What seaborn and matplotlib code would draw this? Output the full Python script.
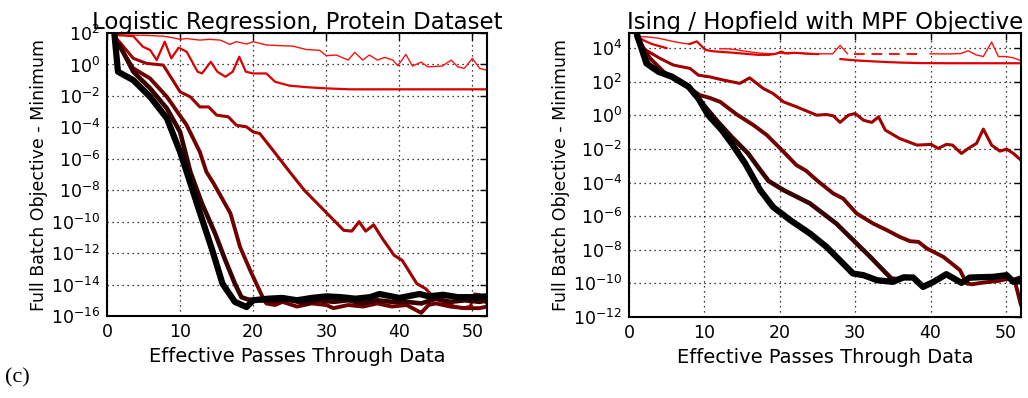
import numpy as np
import pandas as pd
import matplotlib
matplotlib.use("Agg")
import matplotlib.pyplot as plt
import seaborn as sns
from matplotlib.ticker import FixedLocator, NullLocator

# values are log10(full batch objective - minimum)

# Logistic Regression, Protein Dataset
lr_1_x = [1.3, 3.6, 5.5, 7.7, 9, 10, 10.9, 12.7, 14, 15.5, 16.8, 17.7, 19.1, 20, 21.8, 23.5, 25.4, 27.3, 29.1, 30,
          31.4, 33, 33.9, 35, 35.9, 37, 38, 39.1, 39.8, 40.9, 41.8, 43, 43.9, 45.9, 47.1, 48, 48.9, 50, 51, 51.9]
lr_1_y = [1.87, 1.87, 1.85, 1.8, 1.7, 1.6, 1.65, 1.55, 1.6, 1.55, 1.28, 1.45, 1.3, 1.45, 1.24, 1.2, 1.17, 0.95, 0.9, 0.56,
          0.6, 0.28, 0.77, 0.28, 0.6, 0.28, 0.45, 0.28, -0.08, 0.64, -0.1, 0.15, -0.15, -0.1, 0.28, -0.15, -0.25, 0.39, -0.25, -0.36]

lr_2_x = [1.3, 3.6, 4.9, 5.9, 6.8, 7.9, 8.8, 9.8, 10.9, 12.4, 13, 14.2, 15.1, 16.2, 17.2, 18.1, 19, 20, 21.8, 23,
          25, 27.5, 30, 33.2, 40, 52]
lr_2_y = [1.87, 1.8, 1.13, 0.92, 0.28, 1.45, 0.39, 1.07, 0.81, -0.46, -0.57, 0.17, -0.46, -0.78, -0.46, 0.49, -0.46, -0.57, -0.57, -1.1,
          -1.35, -1.45, -1.52, -1.58, -1.58, -1.58]

lr_3_x = [1.3, 3.6, 5.4, 7.7, 10, 11.4, 12.7, 13.9, 15, 16.6, 17.7, 19.1, 20, 20.9, 22.7, 25, 27, 28.8, 30.6, 32.4,
          33.5, 34.5, 35.4, 36.5, 37.7, 39.3, 40.4, 42.4, 43.6, 44.7, 45.5, 47, 48.5, 49.7, 50.3, 51, 51.7, 52]
lr_3_y = [1.66, 0.39, 0.07, -0.04, -1.74, -2.06, -2.7, -2.7, -3.22, -3.33, -3.86, -3.97, -4.29, -4.39, -5.45, -6.83, -8.0, -8.85, -9.7, -10.55,
          -10.6, -10.0, -10.6, -10.2, -11.08, -12.14, -12.46, -13.94, -14.26, -14.8, -15.0, -15.3, -15.5, -15.4, -14.6, -14.65, -15.1, -15.2]

lr_4_x = [1.3, 3.6, 5.9, 8.2, 10.9, 12.7, 13.6, 14.6, 16.9, 18.2, 19.6, 21.3, 21.8, 23, 24, 26, 28, 30, 31, 33,
          35, 37, 39, 41, 43, 44, 45, 47, 49, 51, 52]
lr_4_y = [1.45, -0.25, -0.89, -2.06, -3.86, -5.56, -6.83, -7.57, -9.48, -11.6, -13.1, -14.8, -15.2, -15.3, -15.1, -15.4, -15.2, -15.3, -15.5, -15.3,
          -15.4, -15.2, -15.4, -15.3, -15.8, -15.3, -15.2, -15.4, -15.5, -15.5, -15.4]

lr_5_x = [1.7, 3.6, 5.9, 8.2, 10, 11.4, 13, 14.8, 16.2, 17.5, 18.4, 19.3, 21, 23, 25, 27, 29, 31, 33, 35,
          37, 39, 41, 43, 45, 47, 49, 51, 52]
lr_5_y = [1.24, -0.46, -1.52, -2.8, -4.29, -6.83, -8.85, -10.76, -12.46, -13.94, -14.8, -14.95, -15.0, -15.05, -14.95, -15.2, -15.0, -15.1, -15.0, -15.2,
          -15.0, -15.1, -15.1, -15.2, -14.9, -15.1, -15.0, -15.1, -15.0]

lr_6_x = [1, 1.5, 3.6, 5.9, 8.2, 10, 10.9, 12.6, 14.4, 15.8, 17.5, 19.1, 20, 22, 24, 26, 28, 30, 32, 34,
          36, 37.3, 40, 42.8, 44, 46, 48, 50, 52]
lr_6_y = [2.0, -0.46, -1.0, -2.06, -3.43, -5.56, -6.83, -9.27, -11.8, -13.94, -15.1, -15.43, -15.0, -14.9, -14.85, -15.0, -14.85, -14.75, -14.8, -14.9,
          -14.8, -14.6, -14.85, -14.6, -14.75, -14.65, -14.8, -14.8, -14.75]

# Ising / Hopfield with MPF Objective (gaps in the curves are kept as separate pieces)
mpf_1_pieces = [
    ([1, 2, 3, 4, 5, 6, 7, 8], [4.7, 4.68, 4.64, 4.58, 4.48, 4.38, 4.3, 4.24]),
    ([12, 13, 14, 15, 16, 17, 18, 19, 20, 21, 22, 23, 24, 25, 26, 27, 28, 29],
     [3.96, 3.96, 3.92, 3.84, 3.78, 3.72, 3.68, 3.66, 3.7, 3.66, 3.7, 3.68, 3.64, 3.66, 3.66, 3.66, 4.16, 3.66]),
    ([39.9, 41, 42, 43, 44, 45, 46, 47, 48.1, 49, 50, 51, 51.9],
     [3.66, 3.66, 3.65, 3.66, 3.68, 3.84, 3.6, 3.5, 4.36, 3.5, 3.5, 3.42, 3.27]),
]
mpf_1_dash_x = [29.8, 38.4]
mpf_1_dash_y = [3.66, 3.66]

mpf_2_pieces = [
    ([1, 2, 3, 4, 5], [4.7, 4.45, 4.25, 4.12, 4.0]),
    ([8, 9, 10.1, 11, 12.7, 14, 15.5, 17.1, 18.5, 19.5, 20.2, 20.7, 22, 23.5, 25.1],
     [4.24, 4.4, 3.9, 3.82, 3.76, 3.72, 3.66, 3.6, 3.6, 3.66, 3.8, 3.7, 3.72, 3.68, 3.64]),
    ([28, 30, 32, 34.2, 36, 38.6, 42, 46, 50, 52], [3.35, 3.27, 3.22, 3.17, 3.14, 3.11, 3.1, 3.1, 3.1, 3.1]),
]

mpf_3_x = [1, 1.9, 4.1, 5.9, 8.1, 9.2, 10.7, 12.5, 14.7, 16, 17.8, 19.1, 20.5, 22.2, 24.9, 26.2, 27.1, 28, 29.1, 30,
           31.1, 32.2, 33.1, 34, 35.9, 38.2, 40.1, 41, 42.1, 42.9, 44.1, 45, 46.1, 47, 48.1, 49.2, 50.1, 51, 52]
mpf_3_y = [4.67, 3.98, 3.39, 2.99, 2.79, 2.39, 2.29, 2.1, 1.9, 2.23, 1.6, 1.3, 0.8, 0.51, 0.01, 0.05, -0.03, -0.42, 0.01, 0.11,
           -0.29, -0.42, -0.09, -0.88, -1.38, -1.77, -1.73, -1.97, -1.73, -1.77, -2.27, -1.97, -1.67, -0.82, -1.77, -2.13, -2.01, -2.27, -2.67]

mpf_4_x = [1, 2.8, 4.6, 6.3, 8.1, 9.4, 10.7, 12.1, 14.3, 16.5, 18.3, 20.5, 22.2, 23.5, 24.9, 27.1, 28.4, 30.2, 32.4, 34.2,
           35.9, 37.3, 38.4, 39.5, 41.7, 43.9, 44.8, 45.5, 47, 49, 50.5, 51.2, 52]
mpf_4_y = [4.67, 3.39, 2.59, 2.1, 1.6, 1.2, 1.04, 0.8, 0.05, -0.58, -1.18, -2.17, -2.96, -3.3, -3.86, -4.65, -4.95, -5.84, -6.44, -6.83,
           -7.23, -7.49, -7.53, -7.92, -8.42, -9.21, -10.01, -10.05, -9.95, -9.85, -9.7, -9.9, -11.3]

mpf_5_x = [1, 2.3, 2.8, 4, 5.7, 7.9, 10.1, 11.8, 13.6, 15.8, 17.1, 18.5, 20.5, 24, 27.5, 30.2, 32, 33.7, 34.8, 35.5,
           36.5, 37.7, 38.5, 39, 40.4, 42.1, 44, 45, 47, 49, 50.1, 51, 52]
mpf_5_y = [4.67, 3.3, 2.9, 2.6, 2.35, 1.75, 0.51, -0.39, -1.28, -2.27, -3.07, -3.9, -4.45, -5.24, -6.44, -7.63, -8.42, -9.21, -9.71, -9.75,
           -9.6, -9.65, -10.0, -10.15, -9.9, -9.5, -9.95, -9.7, -9.65, -9.6, -9.55, -9.8, -9.65]

mpf_6_x = [1, 2.3, 3.9, 5.7, 7.9, 9.2, 10.5, 12.3, 13.6, 15.4, 17.4, 19.1, 21.4, 24, 26.2, 28.4, 29.7, 31.1, 32.9, 35,
           36.4, 37.7, 39, 40.4, 42.1, 44.1, 45.2, 48.3, 50.1, 51, 52]
mpf_6_y = [4.9, 3.09, 2.59, 2.29, 1.7, 1.0, 0.01, -0.88, -1.67, -2.86, -4.45, -5.45, -6.24, -7.03, -7.83, -8.82, -9.41, -9.51, -9.81, -9.91,
           -9.65, -9.65, -10.21, -9.91, -9.45, -9.97, -9.65, -9.61, -9.51, -9.91, -9.85]

# colour / width per curve, from thin bright red to thick black
line_colors = ["#ff1010", "#dd0000", "#a00000", "#700000", "#380000", "#000000"]
line_widths = [1.0, 1.6, 2.2, 2.8, 3.3, 4.5]


def draw(ax, xs, logs, color, lw, ls="-"):
    df = pd.DataFrame({"passes": xs, "obj": np.power(10.0, np.asarray(logs, dtype=float))})
    sns.lineplot(data=df, x="passes", y="obj", ax=ax, color=color, linewidth=lw,
                 linestyle=ls, estimator=None, sort=False, legend=False)


sns.set_theme(style="white")
plt.rcParams["font.family"] = ["DejaVu Sans"]
plt.rcParams["mathtext.fontset"] = "dejavusans"
for key in ("text.color", "axes.labelcolor", "xtick.color", "ytick.color"):
    plt.rcParams[key] = "black"

fig = plt.figure(figsize=(10.28, 3.98), dpi=100)
ax1 = fig.add_axes([0.1041, 0.206, 0.3696, 0.711])
ax2 = fig.add_axes([0.6119, 0.2035, 0.3813, 0.7136])

for ax in (ax1, ax2):
    ax.set_yscale("log")

lr_lines = [(lr_1_x, lr_1_y), (lr_2_x, lr_2_y), (lr_3_x, lr_3_y),
            (lr_4_x, lr_4_y), (lr_5_x, lr_5_y), (lr_6_x, lr_6_y)]
for (xs, ys), c, w in zip(lr_lines, line_colors, line_widths):
    draw(ax1, xs, ys, c, w)

for xs, ys in mpf_1_pieces:
    draw(ax2, xs, ys, line_colors[0], line_widths[0])
draw(ax2, mpf_1_dash_x, mpf_1_dash_y, line_colors[0], 1.4, ls=(0, (5.5, 3.5)))
for xs, ys in mpf_2_pieces:
    draw(ax2, xs, ys, line_colors[1], line_widths[1])
mpf_lines = [(mpf_3_x, mpf_3_y), (mpf_4_x, mpf_4_y), (mpf_5_x, mpf_5_y), (mpf_6_x, mpf_6_y)]
for (xs, ys), c, w in zip(mpf_lines, line_colors[2:], line_widths[2:]):
    draw(ax2, xs, ys, c, w)

ax1.set_ylim(1e-16, 1e2)
ax1.yaxis.set_major_locator(FixedLocator([10.0 ** k for k in range(-16, 3, 2)]))
ax2.set_ylim(1e-12, 10 ** 4.9)
ax2.yaxis.set_major_locator(FixedLocator([10.0 ** k for k in range(-12, 5, 2)]))

titles = ["Logistic Regression, Protein Dataset", "Ising / Hopfield with MPF Objective"]
for ax, title in zip((ax1, ax2), titles):
    ax.set_xlim(0, 52)
    ax.xaxis.set_major_locator(FixedLocator([0, 10, 20, 30, 40, 50]))
    ax.yaxis.set_minor_locator(NullLocator())
    ax.xaxis.set_minor_locator(NullLocator())
    ax.grid(True, which="major", linestyle=(0, (1, 3)), color="black", linewidth=0.9)
    ax.tick_params(direction="in", length=5, width=1, top=True, right=True,
                   labelsize=12.5, colors="black", pad=5)
    for sp in ax.spines.values():
        sp.set_color("black")
        sp.set_linewidth(1.5)
    ax.set_title(title, fontsize=16.5, pad=3, color="black")
    ax.set_xlabel("Effective Passes Through Data", fontsize=14, labelpad=4)
    ax.set_ylabel("Full Batch Objective - Minimum", fontsize=12.5, labelpad=2)

fig.text(0.005, 0.04, "(c)", fontsize=16, family="Liberation Serif", color="black")

fig.savefig("out.png", dpi=100)
